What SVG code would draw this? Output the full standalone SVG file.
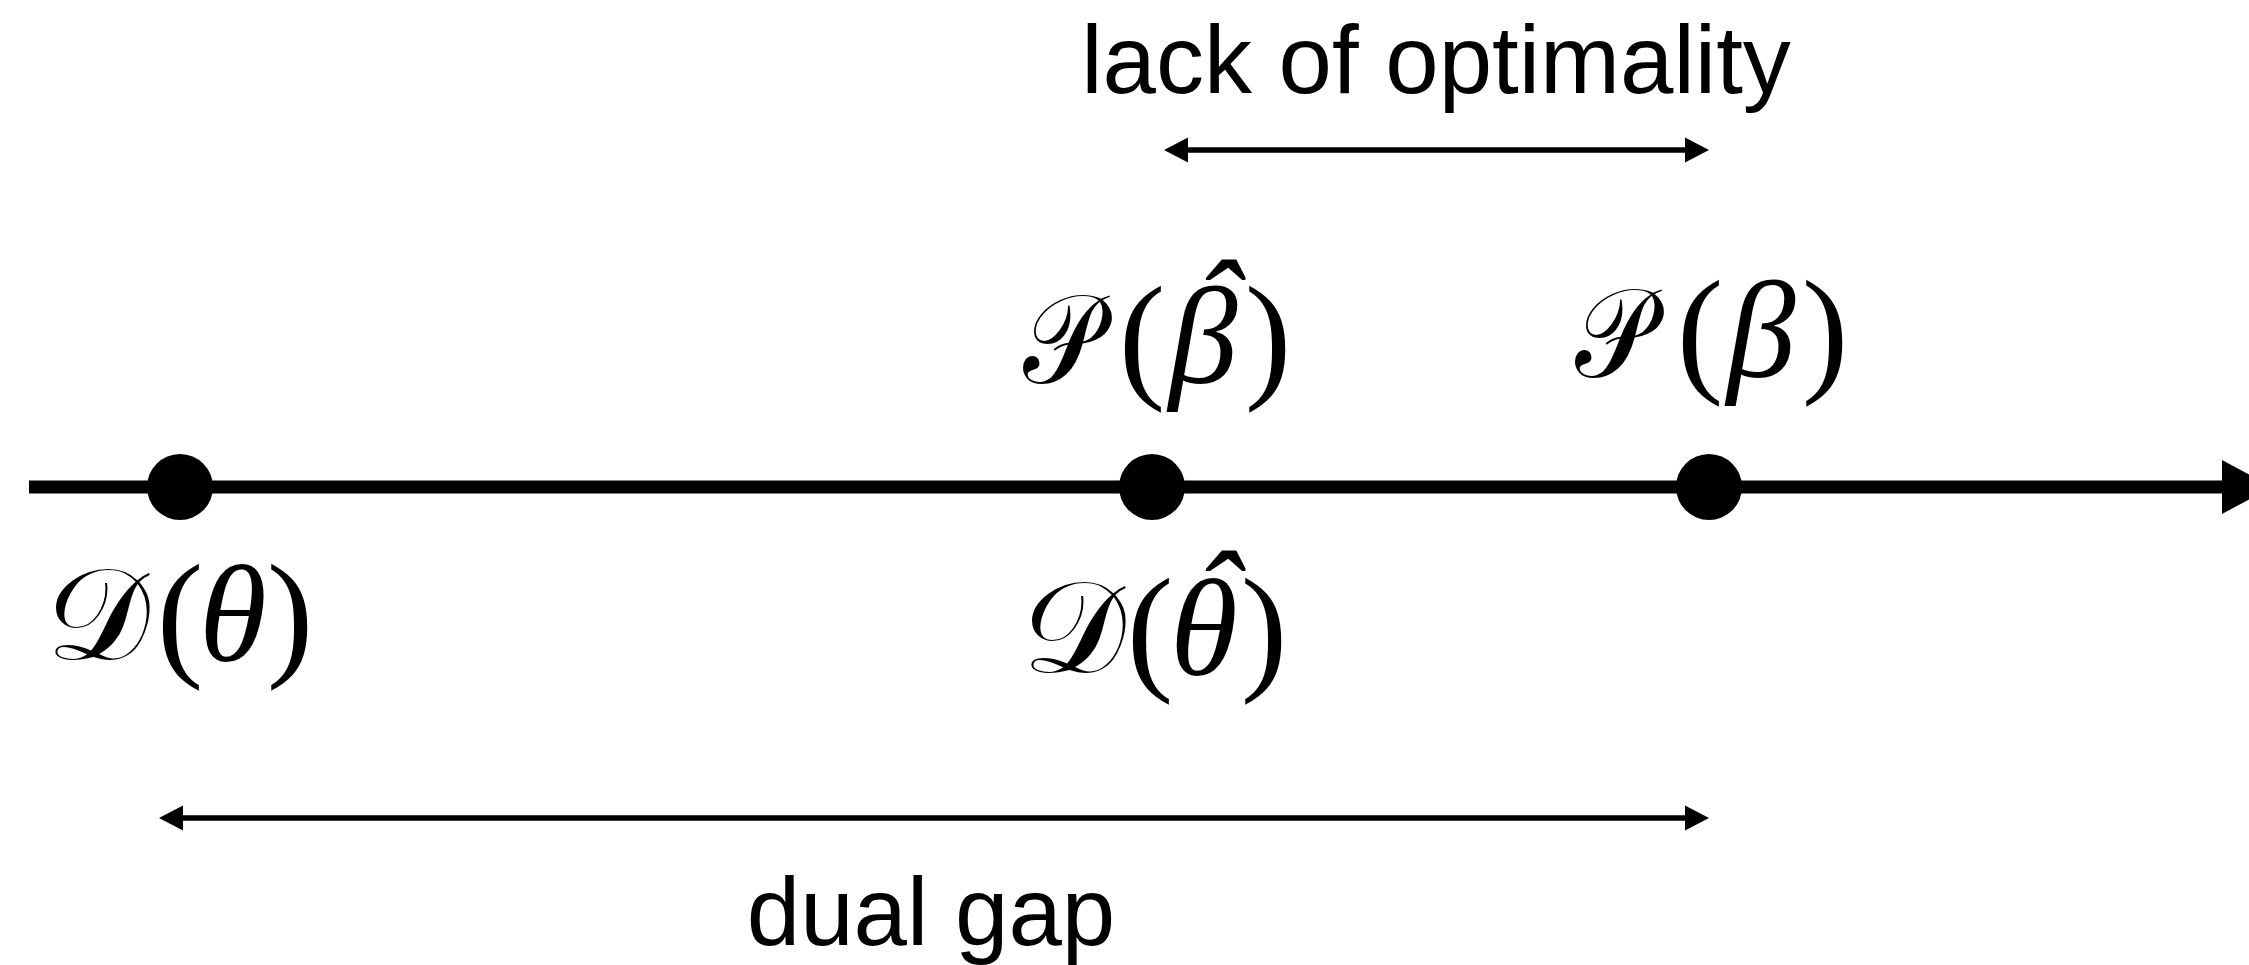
<svg xmlns="http://www.w3.org/2000/svg" width="2249" height="965" viewBox="0 0 2249 965">
<style>
.lbl{font-family:"Liberation Sans",Arial,sans-serif;font-size:96px;fill:#000;text-anchor:middle}
.m{font-family:"Liberation Serif","DejaVu Serif",serif;font-size:138px;font-style:italic;fill:#000;text-anchor:middle}
.m .p{font-style:normal;font-size:140px}
.sd{font-family:"Liberation Serif","DejaVu Serif",serif;font-size:130px;fill:#000;text-anchor:middle}
.sp{font-family:"Liberation Serif","DejaVu Serif",serif;font-size:127px;fill:#000;text-anchor:middle}
.dot{fill:#000}
.ln{stroke:#000;fill:none}
</style>
<rect width="2249" height="965" fill="#fff"/>
<g id="connectors">
  <line class="ln" x1="29" y1="487" x2="2224" y2="487" stroke-width="13"/>
  <polygon points="2222,460 2222,514 2272,487" fill="#000"/>
  <line class="ln" x1="1185" y1="150" x2="1688" y2="150" stroke-width="5.5"/>
  <polygon points="1164,150 1188,137.5 1188,162.5" fill="#000"/>
  <polygon points="1709,150 1685,137.5 1685,162.5" fill="#000"/>
  <line class="ln" x1="180" y1="818" x2="1688" y2="818" stroke-width="5.5"/>
  <polygon points="159,818 183,805.5 183,830.5" fill="#000"/>
  <polygon points="1709,818 1685,805.5 1685,830.5" fill="#000"/>
</g>
<g id="dot-dual"><circle class="dot" cx="180" cy="487" r="33"/></g>
<g id="dot-hat"><circle class="dot" cx="1152" cy="487" r="33"/></g>
<g id="dot-primal"><circle class="dot" cx="1709" cy="487" r="33"/></g>
<g id="label-D-theta">
  <text class="sd" x="98" y="659">𝒟</text>
  <text class="m" x="180" y="661"><tspan class="p" x="180">(</tspan><tspan x="233">θ</tspan><tspan class="p" x="290">)</tspan></text>
</g>
<g id="label-D-thetahat">
  <text class="sd" x="1074" y="672">𝒟</text>
  <text class="m" x="1150" y="675"><tspan class="p" x="1150">(</tspan><tspan x="1204">θ</tspan><tspan x="1217" y="646">ˆ</tspan><tspan class="p" x="1264" y="675">)</tspan></text>
</g>
<g id="label-P-betahat">
  <text class="sp" transform="translate(1062,383) scale(0.85,1)">𝒫</text>
  <text class="m" x="1142" y="383"><tspan class="p" x="1142">(</tspan><tspan x="1203">β</tspan><tspan x="1217" y="355">ˆ</tspan><tspan class="p" x="1268" y="383">)</tspan></text>
</g>
<g id="label-P-beta">
  <text class="sp" transform="translate(1614,377) scale(0.85,1)">𝒫</text>
  <text class="m" x="1700" y="377"><tspan class="p" x="1700">(</tspan><tspan x="1761">β</tspan><tspan class="p" x="1825">)</tspan></text>
</g>
<g id="label-lack"><text class="lbl" x="1436" y="93">lack of optimality</text></g>
<g id="label-gap"><text class="lbl" x="931" y="945">dual gap</text></g>
</svg>
